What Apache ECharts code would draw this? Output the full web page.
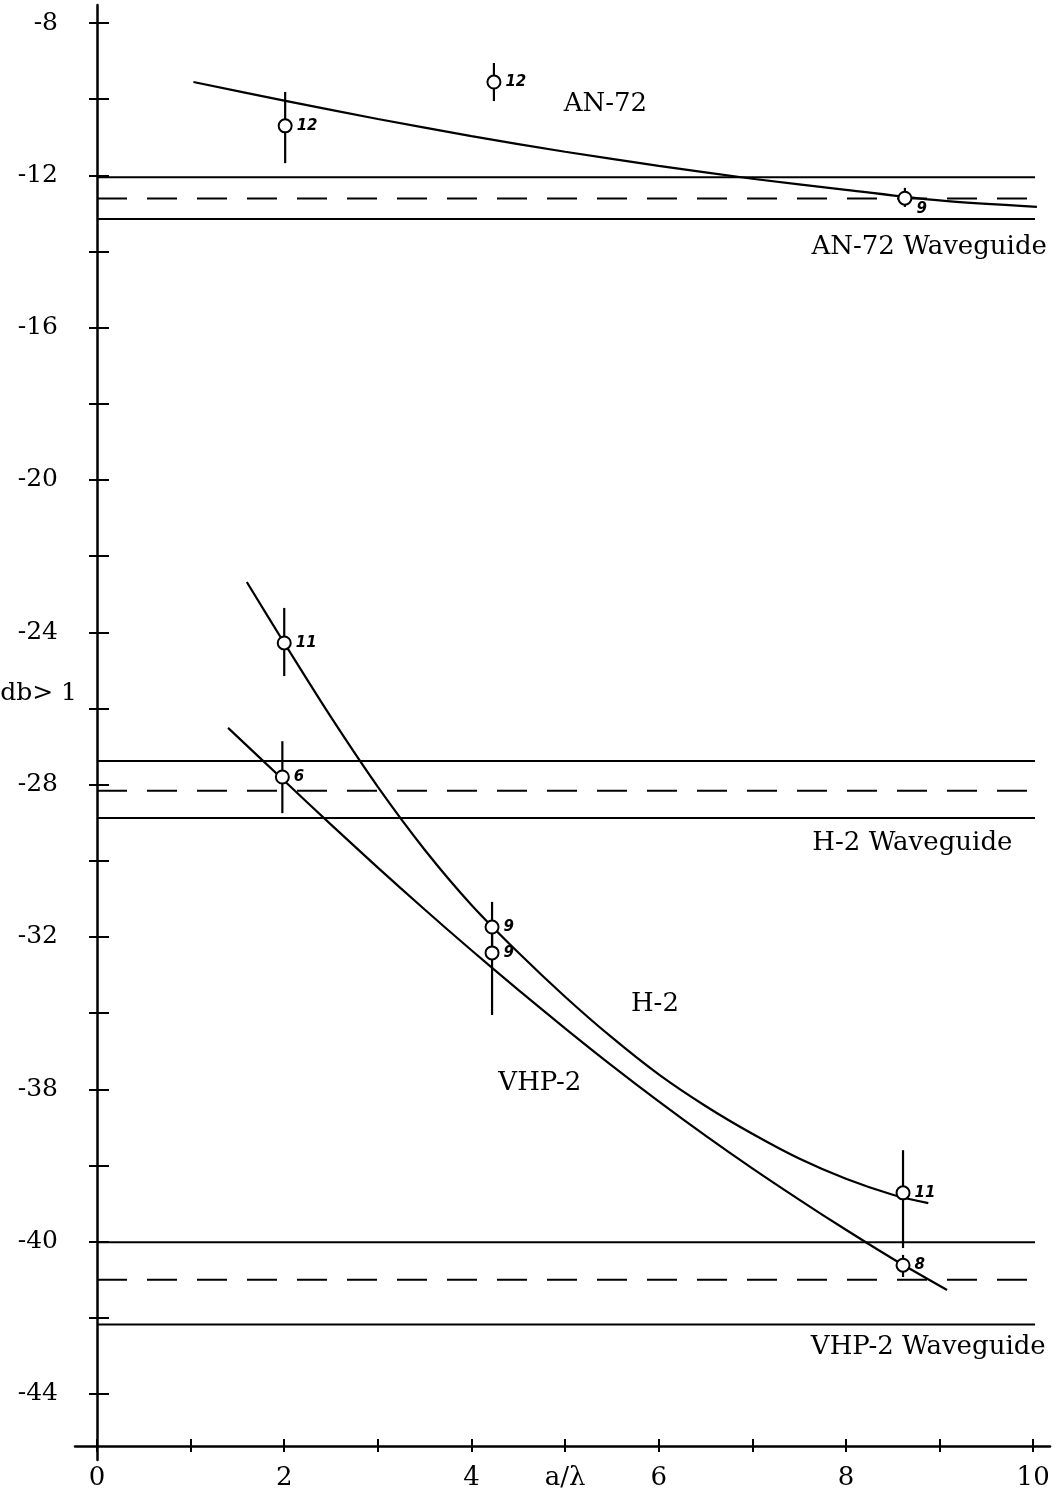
<!DOCTYPE html>
<html>
<head>
<meta charset="utf-8">
<script src="https://cdn.jsdelivr.net/npm/echarts@6/dist/echarts.min.js"></script>
<style>
  html, body { margin: 0; background: #fff; }
  #chart { width: 1058px; height: 1497px; }
</style>
</head>
<body>
<div id="chart"></div>
<script>
// axis ticks and labels
const xTicks = [0, 1, 2, 3, 4, 5, 6, 7, 8, 9, 10];
const xLabelAt = [0, 2, 4, 5, 6, 8, 10];
const xLabelText = ['0', '2', '4', 'a/λ', '6', '8', '10'];
const yTicks = [-8, -10, -12, -14, -16, -18, -20, -22, -24, -26, -28, -30, -32, -34, -36, -38, -40, -42, -44];
const yLabelAt = [-8, -12, -16, -20, -24, -26, -28, -32, -36, -40, -44];
const yLabelText = ['-8', '-12', '-16', '-20', '-24', 'db> 1', '-28', '-32', '-38', '-40', '-44'];

// waveguide bands: upper solid, dashed, lower solid
const an72Band = [-12.05, -12.61, -13.15];
const h2Band = [-27.38, -28.16, -28.88];
const vhp2Band = [-40.02, -41.0, -42.18];
const bandSpan = [0, 10.02];

// fitted curves
const an72Curve = [[1.03, -9.55], [2, -10.04], [3, -10.52], [4, -10.97], [5, -11.38], [6, -11.75],
  [7, -12.09], [8, -12.38], [9, -12.66], [10.04, -12.83]];
const h2Curve = [[1.6, -22.68], [2, -24.28], [2.5, -26.23], [3, -28.06], [3.5, -29.71], [4, -31.16],
  [4.5, -32.41], [5, -33.57], [5.5, -34.64], [6, -35.61], [6.5, -36.44], [7, -37.17], [7.5, -37.82],
  [8, -38.35], [8.5, -38.77], [8.88, -38.99]];
const vhp2Curve = [[1.4, -26.51], [2, -27.9], [2.5, -29.05], [3, -30.18], [3.5, -31.28], [4, -32.35],
  [4.5, -33.39], [5, -34.4], [5.5, -35.38], [6, -36.32], [6.5, -37.22], [7, -38.08], [7.5, -38.9],
  [8, -39.69], [8.5, -40.45], [9.08, -41.27]];

// measured points [x, y], bars [x, low, high], sample counts
const an72Points = [[2.01, -10.70], [4.24, -9.55], [8.63, -12.60]];
const an72Bars = [[2.01, -11.68, -9.81], [4.24, -10.05, -9.05], [8.63, -12.83, -12.33]];
const an72Counts = ['12', '12', '9'];
const h2Points = [[2.00, -24.28], [4.22, -31.74], [8.61, -38.72]];
const h2Bars = [[2.00, -25.15, -23.36], [4.22, -32.30, -31.08], [8.61, -40.17, -37.60]];
const h2Counts = ['11', '9', '11'];
const vhp2Points = [[1.98, -27.80], [4.22, -32.42], [8.61, -40.62]];
const vhp2Bars = [[1.98, -28.75, -26.86], [4.22, -34.05, -31.60], [8.61, -40.93, -40.35]];
const vhp2Counts = ['6', '9', '8'];

// text notes
const noteText = ['AN-72', 'AN-72 Waveguide', 'H-2', 'H-2 Waveguide', 'VHP-2', 'VHP-2 Waveguide'];
const noteAt = [[5.43, -10.13], [8.89, -13.88], [5.96, -33.76], [8.71, -29.53], [4.73, -35.84], [8.88, -42.77]];

const xMin = -0.235, xMax = 10.18;
const yMin = -45.736, yMax = -7.527;
const serif = 'DejaVu Serif';

function bandSeries(vals) {
  return vals.map(function (v, i) {
    return {
      type: 'line',
      data: [[bandSpan[0], v], [bandSpan[1], v]],
      symbol: 'none',
      silent: true,
      lineStyle: { color: '#000', width: 2, type: i === 1 ? [30, 20] : 'solid' }
    };
  });
}

function curveSeries(data) {
  return {
    type: 'line',
    data: data,
    smooth: 0.3,
    symbol: 'none',
    silent: true,
    lineStyle: { color: '#000', width: 2.2 }
  };
}

function barSeries(data) {
  return {
    type: 'custom',
    data: data,
    silent: true,
    encode: { x: 0, y: [1, 2] },
    renderItem: function (params, api) {
      const a = api.coord([api.value(0), api.value(1)]);
      const b = api.coord([api.value(0), api.value(2)]);
      return {
        type: 'line',
        shape: { x1: a[0], y1: a[1], x2: b[0], y2: b[1] },
        style: { stroke: '#000', lineWidth: 2.2 }
      };
    },
    z: 3
  };
}

function pointSeries(points, counts, lowLabel) {
  return {
    type: 'scatter',
    data: points.map(function (p, i) {
      const item = { value: p };
      if (lowLabel === i) item.label = { offset: [0, 11] };
      return item;
    }),
    symbol: 'circle',
    symbolSize: 13,
    silent: true,
    itemStyle: { color: '#fff', borderColor: '#000', borderWidth: 2, opacity: 1 },
    label: {
      show: true,
      position: 'right',
      distance: 4,
      formatter: function (p) { return counts[p.dataIndex]; },
      color: '#000',
      fontFamily: 'DejaVu Sans',
      fontWeight: 'bold',
      fontStyle: 'italic',
      fontSize: 15
    },
    z: 5
  };
}

const chart = echarts.init(document.getElementById('chart'));

const option = {
  animation: false,
  backgroundColor: '#fff',
  grid: { left: 75, right: 8, top: 5, bottom: 37, containLabel: false, outerBoundsMode: 'none' },
  xAxis: [
    {
      type: 'value', min: xMin, max: xMax, position: 'bottom', offset: -14,
      axisLine: { show: true, onZero: false, lineStyle: { color: '#000', width: 2.5 } },
      axisTick: { show: true, customValues: xTicks, length: 6, lineStyle: { color: '#000', width: 2 } },
      axisLabel: {
        show: true, customValues: xLabelAt, margin: 19, hideOverlap: false,
        color: '#000', fontFamily: serif, fontSize: 26,
        formatter: function (v) { const i = xLabelAt.indexOf(v); return i >= 0 ? xLabelText[i] : ''; }
      },
      splitLine: { show: false }
    },
    {
      type: 'value', min: xMin, max: xMax, position: 'bottom', offset: -14,
      axisLine: { show: false, onZero: false },
      axisTick: { show: true, inside: true, customValues: xTicks, length: 7, lineStyle: { color: '#000', width: 2 } },
      axisLabel: { show: false },
      splitLine: { show: false }
    }
  ],
  yAxis: [
    {
      type: 'value', min: yMin, max: yMax, position: 'left', offset: -22,
      axisLine: { show: true, onZero: false, lineStyle: { color: '#000', width: 2.5 } },
      axisTick: { show: true, customValues: yTicks, length: 8, lineStyle: { color: '#000', width: 2 } },
      axisLabel: {
        show: true, customValues: yLabelAt, margin: 20, hideOverlap: false,
        color: '#000', fontFamily: serif, fontSize: 25,
        formatter: function (v) {
          const i = yLabelAt.indexOf(v);
          if (i < 0) return '';
          return v === -26 ? '{db|' + yLabelText[i] + '}' : '{n|' + yLabelText[i] + '}';
        },
        rich: {
          n: { fontFamily: serif, fontSize: 25, color: '#000', padding: [0, 19, 0, 0] },
          db: { fontFamily: serif, fontSize: 25, color: '#000', padding: [0, 0, 30, 0] }
        }
      },
      splitLine: { show: false }
    },
    {
      type: 'value', min: yMin, max: yMax, position: 'left', offset: -22,
      axisLine: { show: false, onZero: false },
      axisTick: { show: true, inside: true, customValues: yTicks, length: 12, lineStyle: { color: '#000', width: 2 } },
      axisLabel: { show: false },
      splitLine: { show: false }
    }
  ],
  series: [].concat(
    bandSeries(an72Band),
    bandSeries(h2Band),
    bandSeries(vhp2Band),
    [curveSeries(an72Curve), curveSeries(h2Curve), curveSeries(vhp2Curve)],
    [barSeries(an72Bars), barSeries(h2Bars), barSeries(vhp2Bars)],
    [pointSeries(an72Points, an72Counts, 2), pointSeries(h2Points, h2Counts, -1), pointSeries(vhp2Points, vhp2Counts, -1)],
    [{
      type: 'scatter',
      data: noteAt.map(function (p, i) { return { value: p, name: noteText[i] }; }),
      symbolSize: 0,
      silent: true,
      clip: false,
      itemStyle: { opacity: 1 },
      label: {
        show: true, position: [0, 0], align: 'center', verticalAlign: 'middle', formatter: '{b}',
        color: '#000', fontFamily: serif, fontSize: 26
      },
      z: 6
    }]
  )
};

chart.setOption(option);
</script>
</body>
</html>
